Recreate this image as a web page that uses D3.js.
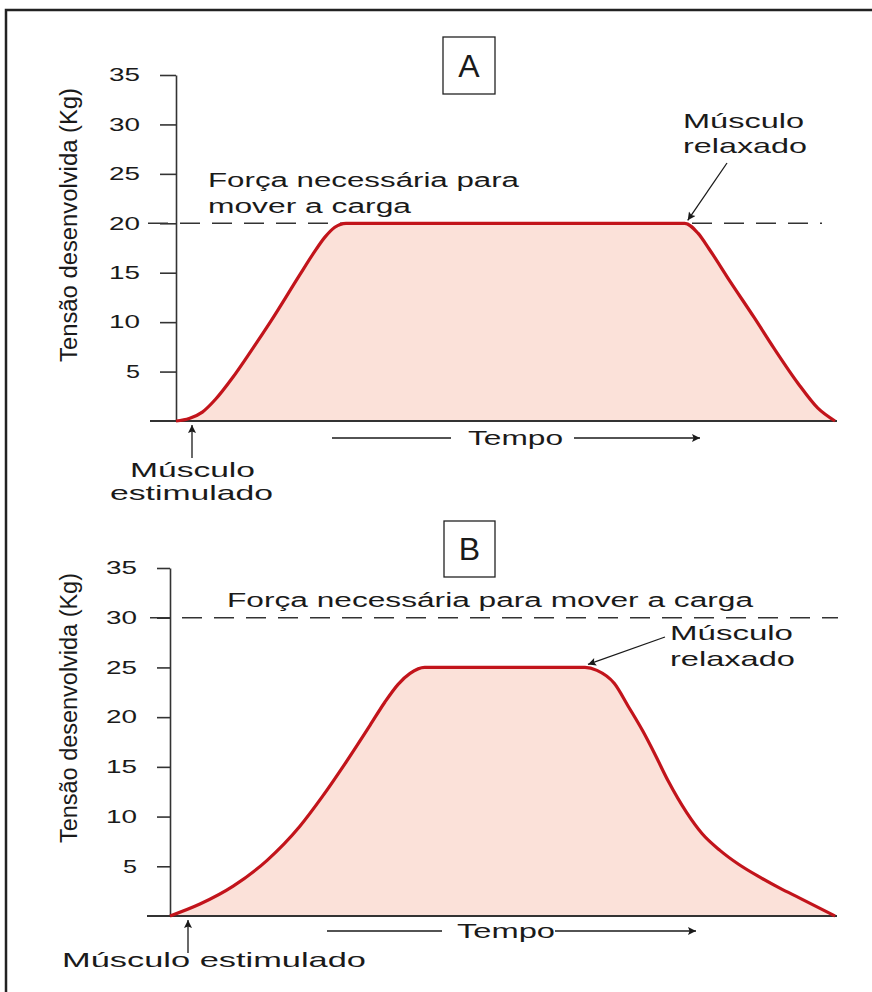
<!DOCTYPE html>
<html>
<head>
<meta charset="utf-8">
<script src="https://cdn.jsdelivr.net/npm/d3@7"></script>
<style>
  body { margin: 0; background: #fff; }
</style>
</head>
<body>
<div id="chart"></div>
<script>
// tick labels of the tension axis (Kg)
var yTicks = [5, 10, 15, 20, 25, 30, 35];

// panel A: time (0-100 along the axis) and tension (Kg)
var timeA    = [0, 2, 4, 6, 8.6, 11.4, 14.3, 18.8, 20.8, 22.6, 24.1, 25.8, 77.2, 79.2, 80.9, 84.2, 87.7, 90.7, 94.4, 97.4, 100];
var tensionA = [0, 0.25, 0.9, 2.2, 4.4, 7.1, 10, 14.8, 16.9, 18.6, 19.6, 20, 20, 19, 17.4, 14.0, 10.5, 7.4, 3.8, 1.3, 0];
var loadA = 20;

// panel B
var timeB    = [0, 4.5, 9.5, 14.6, 19.5, 22.9, 26.3, 30.1, 32.3, 34.3, 36.1, 38.3, 62.4, 64.2, 66.8, 68.9, 71.1, 72.9, 74.9, 77.7, 80.0, 82.7, 85.5, 88.7, 91.7, 94.7, 100];
var tensionB = [0, 1.2, 3.0, 5.6,  9.0,  12.0, 15.3, 19.2, 21.5, 23.3, 24.4, 25,   25,   24.7, 23.4, 21.1, 18.6, 16.3, 13.6, 10.4, 8.3,  6.6,  5.2,  3.9,  2.8,  1.8,  0];
var loadB = 30;

var yLabel = "Tensão desenvolvida (Kg)";
var timeLabel = "Tempo";

(function () {
  var w = 872,
      h = 992;

  var svg = d3.select("#chart")
      .append("svg")
      .attr("width", w)
      .attr("height", h)
      .style("font-family", "'Liberation Sans', Arial, Helvetica, sans-serif");

  svg.append("rect").attr("width", w).attr("height", h).attr("fill", "#fff");
  svg.append("rect")
      .attr("x", 6).attr("y", 10)
      .attr("width", w + 20).attr("height", h + 20)
      .attr("fill", "none")
      .attr("stroke", "#222")
      .attr("stroke-width", 2.5);

  var defs = svg.append("defs");
  defs.append("marker")
      .attr("id", "head")
      .attr("viewBox", "0 0 10 10")
      .attr("refX", 10).attr("refY", 5)
      .attr("markerUnits", "userSpaceOnUse")
      .attr("markerWidth", 13).attr("markerHeight", 8)
      .attr("orient", "auto")
    .append("path")
      .attr("d", "M0,0L10,5L0,10L2,5Z")
      .attr("fill", "#1a1a1a");

  function label(g, str, x, y, size, len, anchor) {
    var t = g.append("text")
        .attr("x", x)
        .attr("y", y)
        .attr("font-size", size)
        .attr("fill", "#1a1a1a")
        .text(str);
    if (len) t.attr("textLength", len).attr("lengthAdjust", "spacingAndGlyphs");
    if (anchor) t.attr("text-anchor", anchor);
    return t;
  }

  function arrow(g, x1, y1, x2, y2) {
    g.append("line")
        .attr("x1", x1).attr("y1", y1)
        .attr("x2", x2).attr("y2", y2)
        .attr("stroke", "#1a1a1a")
        .attr("stroke-width", 1.3)
        .attr("marker-end", "url(#head)");
  }

  function drawPanel(p) {
    var x = d3.scaleLinear().domain([0, 100]).range([p.left, p.right]);
    var y = d3.scaleLinear().domain([0, 35]).range([p.base, p.top]);
    var g = svg.append("g");

    var pts = p.time.map(function(t, i) { return [t, p.tension[i]]; });

    var area = d3.area()
        .x(function(d) { return x(d[0]); })
        .y0(y(0))
        .y1(function(d) { return y(d[1]); })
        .curve(d3.curveMonotoneX);

    g.append("path")
        .datum(pts)
        .attr("d", area)
        .attr("fill", "#fbe1d9");

    // load line
    g.append("line")
        .attr("x1", p.dashFrom).attr("x2", p.dashTo)
        .attr("y1", y(p.load)).attr("y2", y(p.load))
        .attr("stroke", "#333")
        .attr("stroke-width", 1.5)
        .attr("stroke-dasharray", "20,12");

    // tension axis
    var ax = g.append("g")
        .attr("transform", "translate(" + p.left + ",0)")
        .style("color", "#333")
        .call(d3.axisLeft(y)
          .tickValues(yTicks)
          .tickSize(p.tick)
          .tickSizeOuter(0)
          .tickPadding(p.labelGap - p.tick));
    ax.select(".domain").attr("stroke-width", 1.6);
    ax.selectAll(".tick line").attr("stroke-width", 1.6);
    ax.selectAll(".tick text")
        .attr("font-family", "'Liberation Sans', Arial, sans-serif")
        .attr("font-size", 18)
        .attr("fill", "#1a1a1a")
        .attr("textLength", function(d) { return String(d).length > 1 ? 31 : 14; })
        .attr("lengthAdjust", "spacingAndGlyphs");

    // time axis line
    g.append("line")
        .attr("x1", p.baseFrom).attr("x2", x(100) + 2)
        .attr("y1", y(0)).attr("y2", y(0))
        .attr("stroke", "#333")
        .attr("stroke-width", 1.8);

    var line = d3.line()
        .x(function(d) { return x(d[0]); })
        .y(function(d) { return y(d[1]); })
        .curve(d3.curveMonotoneX);

    g.append("path")
        .datum(pts)
        .attr("d", line)
        .attr("fill", "none")
        .attr("stroke", "#c2141b")
        .attr("stroke-width", 3.2)
        .attr("stroke-linejoin", "round");

    // y label
    g.append("text")
        .attr("transform", "translate(77," + p.ylabY + ") rotate(-90)")
        .attr("text-anchor", "middle")
        .attr("font-size", 23)
        .attr("fill", "#1a1a1a")
        .attr("textLength", p.ylabLen)
        .attr("lengthAdjust", "spacingAndGlyphs")
        .text(yLabel);

    // panel letter
    g.append("rect")
        .attr("x", p.box[0]).attr("y", p.box[1])
        .attr("width", p.box[2]).attr("height", p.box[3])
        .attr("fill", "#fff")
        .attr("stroke", "#222")
        .attr("stroke-width", 1.3);
    label(g, p.key, p.box[0] + p.box[2] / 2, p.box[1] + p.box[3] - 17, 32, null, "middle");

    // time arrow
    g.append("line")
        .attr("x1", p.tempo[0]).attr("x2", p.tempo[1])
        .attr("y1", y(0) + p.tempoDy).attr("y2", y(0) + p.tempoDy)
        .attr("stroke", "#1a1a1a").attr("stroke-width", 1.3);
    label(g, timeLabel, p.tempo[2], y(0) + p.tempoDy + 7, 21, p.tempo[3] - p.tempo[2]);
    arrow(g, p.tempo[4], y(0) + p.tempoDy, p.tempo[5], y(0) + p.tempoDy);

    // annotations
    p.notes.forEach(function(n) { label(g, n[0], n[1], n[2], n[3], n[4]); });

    var relaxT = p.time[p.tension.lastIndexOf(d3.max(p.tension))];
    arrow(g, p.relaxFrom[0], p.relaxFrom[1], x(relaxT) + 3, y(d3.max(p.tension)) - 3);
    arrow(g, p.stimX, y(0) + 37, p.stimX, y(0) + 4);
  }

  drawPanel({
    key: "A", time: timeA, tension: tensionA, load: loadA,
    left: 176, right: 835, top: 75, base: 421,
    tick: 16, labelGap: 36, baseFrom: 150,
    dashFrom: 148, dashTo: 822,
    ylabY: 225, ylabLen: 274,
    box: [443, 37, 52, 57],
    tempo: [332, 451, 468, 563, 574, 700], tempoDy: 17,
    notes: [
      ["Força necessária para", 208, 187, 20, 311],
      ["mover a carga", 208, 213, 20, 203],
      ["Músculo", 683, 128, 21, 121],
      ["relaxado", 683, 153, 21, 124],
      ["Músculo", 130, 477, 21, 125],
      ["estimulado", 110, 500, 21, 163]
    ],
    relaxFrom: [727, 163],
    stimX: 192
  });

  drawPanel({
    key: "B", time: timeB, tension: tensionB, load: loadB,
    left: 170, right: 835, top: 568, base: 916,
    tick: 13, labelGap: 33, baseFrom: 147,
    dashFrom: 150, dashTo: 838,
    ylabY: 708, ylabLen: 270,
    box: [444, 521, 51, 56],
    tempo: [327, 442, 457, 555, 555, 696], tempoDy: 15,
    notes: [
      ["Força necessária para mover a carga", 227, 607, 20, 526],
      ["Músculo", 670, 640, 21, 123],
      ["relaxado", 670, 666, 21, 125],
      ["Músculo estimulado", 62, 967, 21, 304]
    ],
    relaxFrom: [665, 637],
    stimX: 188
  });
})();
</script>
</body>
</html>
